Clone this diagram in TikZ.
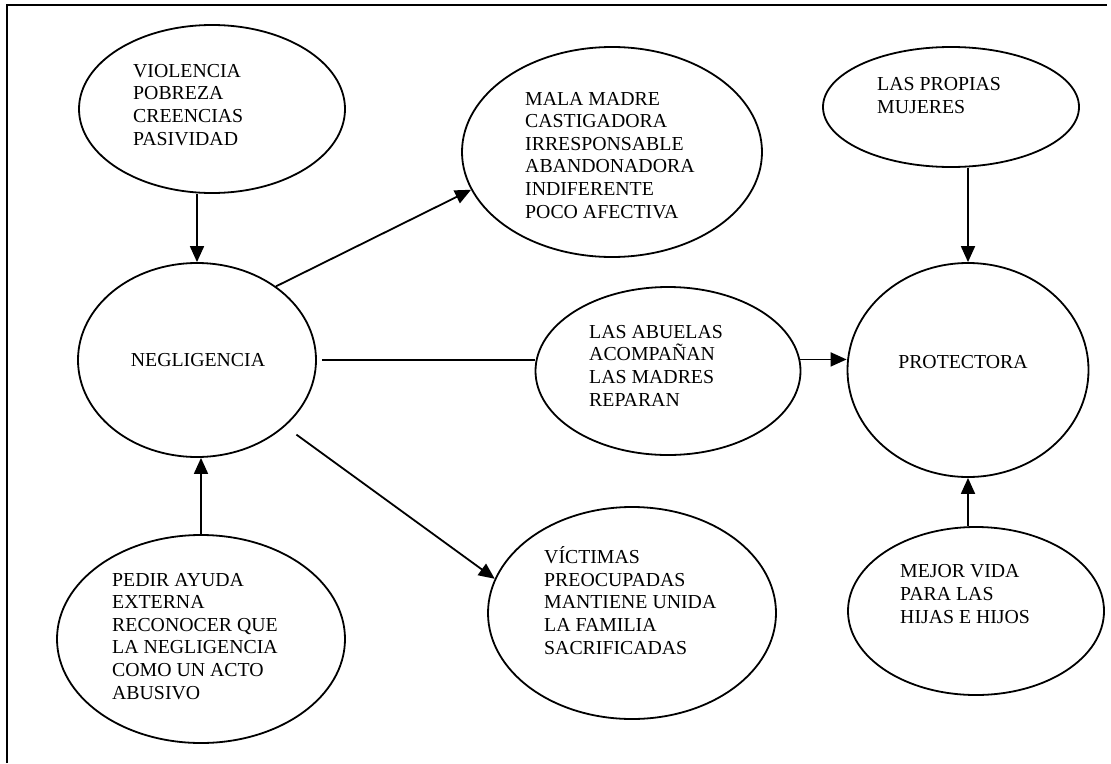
\documentclass[tikz,border=0pt]{standalone}
\usepackage{fontspec}
\setmainfont{Liberation Serif}
\usetikzlibrary{shapes.geometric,arrows.meta}

\tikzset{
	bubble/.style={ellipse, draw, line width=1.8pt, inner sep=0pt},
	words/.style={align=left, anchor=base west, inner sep=0pt, font=\fontsize{19.8}{22.6}\selectfont},
	arr/.style={-{Triangle[length=16pt,width=14pt]}, line width=1.8pt}
}

\begin{document}
\begin{tikzpicture}[x=1pt, y=-1pt]
			\useasboundingbox (0,0) rectangle (1111,763);
			% Frame (top and left only)
			\draw[line width=2.6pt] (7,763) -- (7,5) -- (1107,5);

			% Define nodes
			\node[bubble, minimum width=266pt, minimum height=168pt] (viol) at (212,109) {};
			\node[bubble, minimum width=300pt, minimum height=210pt] (mala) at (612,152) {};
			\node[bubble, minimum width=256pt, minimum height=120pt] (prop) at (951,107) {};
			\node[bubble, minimum width=238pt, minimum height=194pt] (negl) at (197,360) {};
			\node[bubble, minimum width=265pt, minimum height=168pt] (abu) at (668,371) {};
			\node[bubble, minimum width=241pt, minimum height=214pt] (prot) at (968,370) {};
			\node[bubble, minimum width=288pt, minimum height=212pt] (vict) at (632,613) {};
			\node[bubble, minimum width=256pt, minimum height=168pt] (mejor) at (976,611) {};
			\node[bubble, minimum width=288pt, minimum height=208pt] (pedir) at (201,639) {};

			% Texts (placed at the baseline of their last line)
			\node[words] (violtxt) at (133,145) {VIOLENCIA\\POBREZA\\CREENCIAS\\PASIVIDAD};
			\node[words] (malatxt) at (525,218) {MALA MADRE\\CASTIGADORA\\IRRESPONSABLE\\ABANDONADORA\\INDIFERENTE\\POCO AFECTIVA};
			\node[words] (proptxt) at (877,113) {LAS PROPIAS\\MUJERES};
			\node[words, anchor=base] (negltxt) at (198,366) {NEGLIGENCIA};
			\node[words] (abutxt) at (589,406) {LAS ABUELAS\\ACOMPAÑAN\\LAS MADRES\\REPARAN};
			\node[words, anchor=base] (prottxt) at (963,368) {PROTECTORA};
			\node[words] (victxt) at (544,654) {VÍCTIMAS\\PREOCUPADAS\\MANTIENE UNIDA\\LA FAMILIA\\SACRIFICADAS};
			\node[words] (mejortxt) at (900,623) {MEJOR VIDA\\PARA LAS\\HIJAS E HIJOS};
			\node[words] (pedirtxt) at (112,699) {PEDIR AYUDA\\EXTERNA\\RECONOCER QUE\\LA NEGLIGENCIA\\COMO UN ACTO\\ABUSIVO};

			% Draw connectors
			\draw[arr] (viol.south -| negl.north) -- (negl.north);
			\draw[arr] (pedir.north) -- (pedir.north |- negl.south);
			\draw[arr] (negl.43) -- (mala.195);
			\draw[arr, shorten <=14pt] (negl.-37) -- (vict.166);
			\draw[line width=1.8pt, shorten <=5pt] (negl.east) -- (negl.east -| abu.west);
			\draw[arr] (abu.5) -- (abu.5 -| prot.west);
			\draw[arr] (prop.south -| prot.north) -- (prot.north);
			\draw[arr] (mejor.north -| prot.south) -- (prot.south);

		\end{tikzpicture}
\end{document}
